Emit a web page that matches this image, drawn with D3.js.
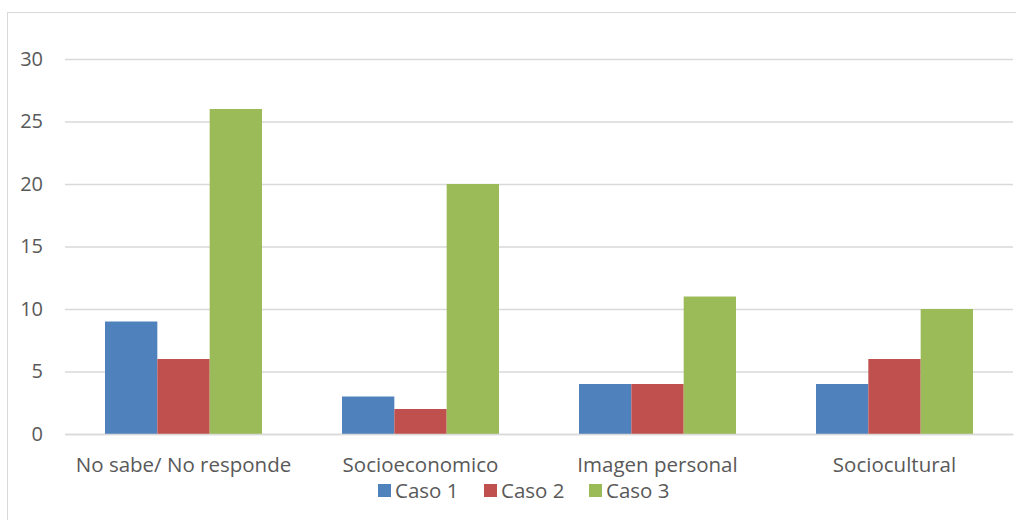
<!DOCTYPE html>
<html>
<head>
<meta charset="utf-8">
<script src="https://cdn.jsdelivr.net/npm/d3@7"></script>
<style>
  html, body { margin: 0; padding: 0; background: #fff; }
  svg text { font-family: "Open Sans", "Liberation Sans", sans-serif; fill: #595959; }
</style>
</head>
<body>
<svg id="chart" width="1016" height="520"></svg>
<script>
const categories = ["No sabe/ No responde", "Socioeconomico", "Imagen personal", "Sociocultural"];
const seriesNames = ["Caso 1", "Caso 2", "Caso 3"];
const caso1 = [9, 3, 4, 4];
const caso2 = [6, 2, 4, 6];
const caso3 = [26, 20, 11, 10];
const yTicks = [0, 5, 10, 15, 20, 25, 30];
const colors = ["#4f81bd", "#c0504d", "#9bbb59"];

const values = [caso1, caso2, caso3];
const svg = d3.select("#chart");

// outer chart frame
svg.append("rect")
  .attr("x", 7.5).attr("y", 12.5)
  .attr("width", 1016).attr("height", 520)
  .attr("fill", "none").attr("stroke", "#d9d9d9");

const plotLeft = 65, plotRight = 1013, plotTop = 59, plotBottom = 434;

const x = d3.scaleBand().domain(categories).range([plotLeft, plotRight]).paddingInner(0).paddingOuter(0);
const x1 = d3.scaleBand().domain(seriesNames).range([40, x.bandwidth() - 40]);
const y = d3.scaleLinear().domain([0, 30]).range([plotBottom, plotTop]);

// gridlines
const yAxis = d3.axisLeft(y).tickValues(yTicks).tickSize(-(plotRight - plotLeft)).tickPadding(22);
const gy = svg.append("g").attr("transform", `translate(${plotLeft},0)`).call(yAxis);
gy.select(".domain").remove();
gy.selectAll(".tick line").attr("stroke", "#d9d9d9").attr("stroke-width", 1.3);
gy.selectAll(".tick text").attr("font-size", 20).attr("fill", "#595959");

// bars
const groups = svg.append("g").selectAll("g")
  .data(categories)
  .join("g")
  .attr("transform", d => `translate(${x(d)},0)`);

groups.selectAll("rect")
  .data((d, i) => seriesNames.map((s, j) => ({ s, v: values[j][i], c: colors[j] })))
  .join("rect")
  .attr("x", d => x1(d.s))
  .attr("width", x1.bandwidth())
  .attr("y", d => y(d.v))
  .attr("height", d => y(0) - y(d.v))
  .attr("fill", d => d.c);

// baseline axis
const xAxis = d3.axisBottom(x).tickSize(0).tickPadding(23);
const gx = svg.append("g").attr("transform", `translate(0,${plotBottom})`).call(xAxis);
gx.select(".domain").attr("stroke", "#d9d9d9").attr("stroke-width", 1.3);
gx.selectAll(".tick text").attr("font-size", 20.5).attr("fill", "#595959");

// legend
const legendX = [378, 484, 589];
const lg = svg.append("g").selectAll("g").data(seriesNames).join("g")
  .attr("transform", (d, i) => `translate(${legendX[i]},484)`);
lg.append("rect").attr("width", 13).attr("height", 13).attr("fill", (d, i) => colors[i]);
lg.append("text").attr("x", 17).attr("y", 14).attr("font-size", 20.5).text(d => d);
</script>
</body>
</html>
